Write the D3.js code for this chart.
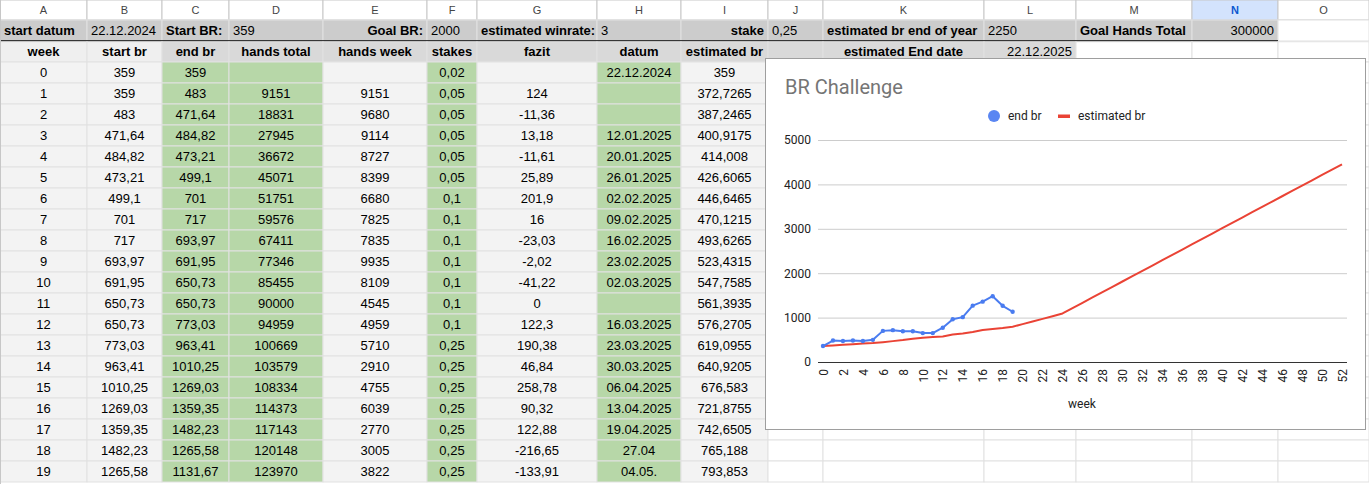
<!DOCTYPE html>
<html>
<head>
<meta charset="utf-8">
<script src="https://cdn.jsdelivr.net/npm/d3@7"></script>
<style>
  body { margin: 0; background: #fff; }
  svg { display: block; }
  .cell { font-family: "Liberation Sans", Arial, sans-serif; font-size: 13px; fill: #000; }
  .colhead { font-family: "Liberation Sans", Arial, sans-serif; font-size: 11px; fill: #444; }
  .chart text { font-family: Roboto, Arial, sans-serif; }
</style>
</head>
<body>
<svg id="sheet" width="1369" height="484"></svg>
<script>
// ---- data (as shown in the sheet) ----
var columnLetters = ["A","B","C","D","E","F","G","H","I","J","K","L","M","N","O"];
var headerLabels = ["week","start br","end br","hands total","hands week","stakes","fazit","datum","estimated br"];

var weeks      = [0,1,2,3,4,5,6,7,8,9,10,11,12,13,14,15,16,17,18,19];
var startBr    = [359,359,483,471.64,484.82,473.21,499.1,701,717,693.97,691.95,650.73,650.73,773.03,963.41,1010.25,1269.03,1359.35,1482.23,1265.58];
var endBr      = [359,483,471.64,484.82,473.21,499.1,701,717,693.97,691.95,650.73,650.73,773.03,963.41,1010.25,1269.03,1359.35,1482.23,1265.58,1131.67];
var handsTotal = [null,9151,18831,27945,36672,45071,51751,59576,67411,77346,85455,90000,94959,100669,103579,108334,114373,117143,120148,123970];
var handsWeek  = [null,9151,9680,9114,8727,8399,6680,7825,7835,9935,8109,4545,4959,5710,2910,4755,6039,2770,3005,3822];
var stakes     = [0.02,0.05,0.05,0.05,0.05,0.05,0.1,0.1,0.1,0.1,0.1,0.1,0.1,0.25,0.25,0.25,0.25,0.25,0.25,0.25];
var fazit      = [null,124,-11.36,13.18,-11.61,25.89,201.9,16,-23.03,-2.02,-41.22,0,122.3,190.38,46.84,258.78,90.32,122.88,-216.65,-133.91];
var datum      = ["22.12.2024","","","12.01.2025","20.01.2025","26.01.2025","02.02.2025","09.02.2025","16.02.2025","23.02.2025","02.03.2025","","16.03.2025","23.03.2025","30.03.2025","06.04.2025","13.04.2025","19.04.2025","27.04","04.05."];

// estimated br for weeks 0..52 (0..19 from the sheet, the rest)
var chartWeeks  = d3.range(0, 53);
var estimatedBr = [359,372.7265,387.2465,400.9175,414.008,426.6065,446.6465,470.1215,493.6265,523.4315,547.7585,561.3935,576.2705,619.0955,640.9205,676.583,721.8755,742.6505,765.188,793.853,
                   853,912,972,1032,1093,1213,1333,1453,1573,1693,1813,1933,2053,2173,2293,2413,2533,2653,2773,2893,3013,3133,3253,3373,3493,3613,3733,3853,3973,4093,4213,4333,4453];

var yTicks = [0,1000,2000,3000,4000,5000];
var xTicks = chartWeeks.filter(function(w) { return w % 2 === 0; });

var topInfo = [
    {col: 0,  text: "start datum", bold: true, align: "start"},
    {col: 1,  text: "22.12.2024", align: "start"},
    {col: 2,  text: "Start BR:", bold: true, align: "start"},
    {col: 3,  text: "359", align: "start"},
    {col: 4,  text: "Goal BR:", bold: true, align: "end"},
    {col: 5,  text: "2000", align: "start"},
    {col: 6,  text: "estimated winrate:", bold: true, align: "start"},
    {col: 7,  text: "3", align: "start"},
    {col: 8,  text: "stake", bold: true, align: "end"},
    {col: 9,  text: "0,25", align: "start"},
    {col: 10, text: "estimated br end of year", bold: true, align: "start"},
    {col: 11, text: "2250", align: "start"},
    {col: 12, text: "Goal Hands Total", bold: true, align: "start"},
    {col: 13, text: "300000", align: "end"}
];

// ---- layout ----
var colEdges = [0, 87, 162, 229, 323, 427, 477, 597, 681, 768, 823, 984, 1076, 1192, 1278, 1369];
var headH = 20, rowH = 21, row1Top = 20, row2Top = 41, dataTop = 62;
var green = "#b7d7a8", light = "#f3f3f3", mid = "#d9d9d9", dark = "#cccccc", grid = "#e1e1e1";
var greenCols = [2, 3, 5, 7];

// numbers get a decimal comma, strings stay as they are
function fmt(v) {
    if (v === null || v === undefined) return "";
    if (typeof v === "string") return v;
    return String(v).replace(".", ",");
}

var svg = d3.select("#sheet");

var colX = function(i) { return colEdges[i]; };
var colW = function(i) { return colEdges[i + 1] - colEdges[i]; };

// column header strip
var heads = svg.append("g");
heads.selectAll("rect").data(columnLetters).enter().append("rect")
    .attr("x", function(d, i) { return colX(i); }).attr("y", 0)
    .attr("width", function(d, i) { return colW(i); }).attr("height", headH)
    .attr("fill", function(d) { return d === "N" ? "#d3e3fd" : "#fff"; })
    .attr("stroke", "#c7c7c7").attr("stroke-width", 1);
heads.selectAll("text").data(columnLetters).enter().append("text")
    .attr("class", "colhead")
    .attr("x", function(d, i) { return colX(i) + colW(i) / 2; }).attr("y", 14)
    .attr("text-anchor", "middle")
    .attr("font-weight", function(d) { return d === "N" ? "bold" : null; })
    .style("fill", function(d) { return d === "N" ? "#0b57d0" : null; })
    .text(function(d) { return d; });

// row 1: info line
var info = svg.append("g");
info.selectAll("rect").data(columnLetters).enter().append("rect")
    .attr("x", function(d, i) { return colX(i); }).attr("y", row1Top)
    .attr("width", function(d, i) { return colW(i); }).attr("height", rowH)
    .attr("fill", function(d, i) { return i < 14 ? dark : "#fff"; })
    .attr("stroke", grid);
info.selectAll("text").data(topInfo).enter().append("text")
    .attr("class", "cell")
    .attr("x", function(d) { return d.align === "end" ? colX(d.col + 1) - 4 : colX(d.col) + 4; })
    .attr("y", row1Top + 15)
    .attr("text-anchor", function(d) { return d.align; })
    .attr("font-weight", function(d) { return d.bold ? "bold" : null; })
    .text(function(d) { return d.text; });
info.append("line")
    .attr("x1", 0).attr("x2", colEdges[14]).attr("y1", row2Top).attr("y2", row2Top)
    .attr("stroke", "#000").attr("stroke-width", 1.5);

// row 2: column titles
var row2 = svg.append("g");
row2.selectAll("rect").data(columnLetters).enter().append("rect")
    .attr("x", function(d, i) { return colX(i); }).attr("y", row2Top + 0.75)
    .attr("width", function(d, i) { return colW(i); }).attr("height", rowH - 0.75)
    .attr("fill", function(d, i) { return i < 2 ? "#efefef" : (i < 12 ? mid : "#fff"); })
    .attr("stroke", grid);
row2.selectAll("text.h").data(headerLabels).enter().append("text")
    .attr("class", "cell h")
    .attr("x", function(d, i) { return colX(i) + colW(i) / 2; }).attr("y", row2Top + 15)
    .attr("text-anchor", "middle").attr("font-weight", "bold")
    .text(function(d) { return d; });
row2.append("text").attr("class", "cell")
    .attr("x", colX(10) + colW(10) / 2).attr("y", row2Top + 15)
    .attr("text-anchor", "middle").attr("font-weight", "bold")
    .text("estimated End date");
row2.append("text").attr("class", "cell")
    .attr("x", colX(12) - 4).attr("y", row2Top + 15)
    .attr("text-anchor", "end")
    .text("22.12.2025");

// data rows
var tableCols = [weeks, startBr, endBr, handsTotal, handsWeek, stakes, fazit, datum, estimatedBr.slice(0, 20)];
var body = svg.append("g");
weeks.forEach(function(w, r) {
    var top = dataTop + r * rowH;
    var rowG = body.append("g");
    rowG.selectAll("rect").data(columnLetters).enter().append("rect")
        .attr("x", function(d, i) { return colX(i); }).attr("y", top)
        .attr("width", function(d, i) { return colW(i); }).attr("height", rowH)
        .attr("fill", function(d, i) {
            if (i > 8) return "#fff";
            return greenCols.indexOf(i) >= 0 ? green : light;
        })
        .attr("stroke", grid);
    rowG.selectAll("text").data(tableCols).enter().append("text")
        .attr("class", "cell")
        .attr("x", function(d, i) { return colX(i) + colW(i) / 2; }).attr("y", top + 15)
        .attr("text-anchor", "middle")
        .text(function(d) { return fmt(d[r]); });
});
svg.append("line").attr("x1", 0.5).attr("x2", 0.5).attr("y1", 0).attr("y2", 484).attr("stroke", "#c7c7c7");

// ---- chart ----
var box = {x: 765.5, y: 58.5, w: 600, h: 371};
var chart = svg.append("g").attr("class", "chart");
chart.append("rect")
    .attr("x", box.x).attr("y", box.y).attr("width", box.w).attr("height", box.h)
    .attr("fill", "#fff").attr("stroke", "#9e9e9e");

chart.append("text")
    .attr("x", 785).attr("y", 94)
    .attr("font-size", "20px").attr("fill", "#757575")
    .text("BR Challenge");

var legend = chart.append("g").attr("font-size", "12px").attr("fill", "#222");
legend.append("circle").attr("cx", 994).attr("cy", 116).attr("r", 6).attr("fill", "#5a86f2");
legend.append("text").attr("x", 1008).attr("y", 120).attr("fill", "#222").text("end br");
legend.append("rect").attr("x", 1058).attr("y", 114.5).attr("width", 12).attr("height", 3.5).attr("fill", "#ea4335");
legend.append("text").attr("x", 1078).attr("y", 120).attr("fill", "#222").text("estimated br");

var x = d3.scalePoint().domain(chartWeeks).range([818, 1347]).padding(0.5);
var y = d3.scaleLinear().domain([0, 5000]).range([362, 140]);

var yAxis = chart.append("g")
    .attr("transform", "translate(818,0)")
    .call(d3.axisLeft(y).tickValues(yTicks).tickSize(-(1347 - 818)).tickPadding(7).tickFormat(d3.format("d")));
yAxis.select(".domain").remove();
yAxis.selectAll("line").attr("stroke", "#cccccc");
yAxis.selectAll("text").attr("font-size", "12px").attr("fill", "#222");

var xAxis = chart.append("g")
    .attr("transform", "translate(0,362)")
    .call(d3.axisBottom(x).tickValues(xTicks).tickSize(0));
xAxis.select(".domain").attr("stroke", "#333").attr("d", "M818,0.5H1347");
xAxis.selectAll("text")
    .attr("transform", "rotate(-90)")
    .attr("text-anchor", "end")
    .attr("x", -7).attr("y", 0).attr("dy", "0.35em")
    .attr("font-size", "12px").attr("fill", "#222");

chart.append("text")
    .attr("x", 1082).attr("y", 408).attr("text-anchor", "middle")
    .attr("font-size", "12px").attr("fill", "#222")
    .text("week");

var estData = chartWeeks.map(function(w, i) { return {week: w, v: estimatedBr[i]}; });
var endData = weeks.map(function(w, i) { return {week: w, v: endBr[i]}; });
var line = d3.line().x(function(d) { return x(d.week); }).y(function(d) { return y(d.v); });

chart.append("path").datum(estData)
    .attr("d", line).attr("fill", "none")
    .attr("stroke", "#ea4335").attr("stroke-width", 2).attr("stroke-linejoin", "round");
chart.append("path").datum(endData)
    .attr("d", line).attr("fill", "none")
    .attr("stroke", "#4a7cf0").attr("stroke-width", 2).attr("stroke-linejoin", "round");
chart.selectAll("circle.pt").data(endData).enter().append("circle")
    .attr("class", "pt")
    .attr("cx", function(d) { return x(d.week); })
    .attr("cy", function(d) { return y(d.v); })
    .attr("r", 2.2).attr("fill", "#4a7cf0");
</script>
</body>
</html>
